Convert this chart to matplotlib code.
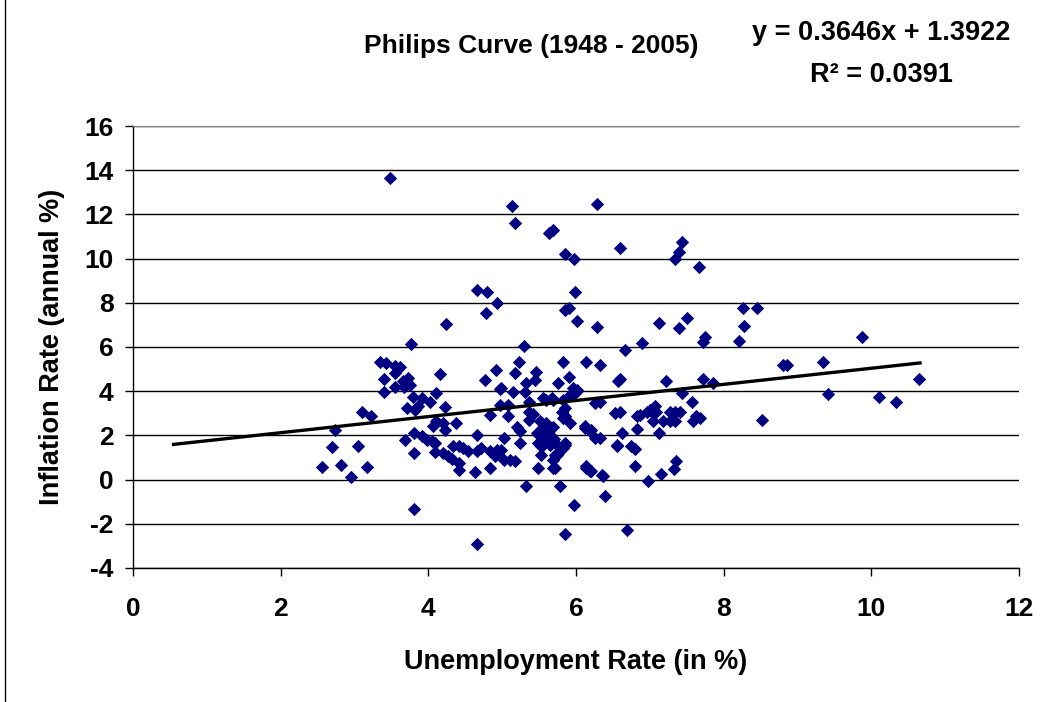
import matplotlib
matplotlib.use('Agg')
from matplotlib import pyplot as plt
import numpy as np

# unemployment rate (%) and inflation rate (annual %)
unemp = [
    3.48, 5.13, 5.17, 6.28, 5.63, 5.69, 5.85, 5.97, 6.60, 7.34, 7.39, 7.43, 7.66,
    4.66, 4.80, 4.93, 4.78, 5.99, 5.85, 5.90, 6.01, 4.24, 6.28, 7.13, 7.39, 7.50,
    8.26, 8.45, 8.28, 9.88, 7.75, 7.72, 6.89, 6.66, 8.21, 3.77, 5.29,
    3.35, 3.43, 3.55, 3.55, 3.40, 3.55, 3.40, 3.10, 3.23, 2.73, 2.70, 3.05, 2.56,
    2.82, 3.17, 2.95, 3.62, 3.66, 3.72, 3.75, 3.67,
    4.16, 4.92, 4.77, 4.11, 4.97, 3.79, 3.91, 4.02, 3.71, 3.82, 3.86, 4.23, 4.84,
    4.11, 4.20, 4.07, 4.23, 4.38, 4.66, 3.80, 3.91, 3.98, 4.05, 3.68, 4.09, 4.34,
    4.41, 4.47, 4.54, 4.66, 4.72, 4.84, 4.93, 3.81, 4.09, 4.20, 4.27, 4.32, 4.41,
    4.41, 4.63, 4.84, 4.90, 3.81, 4.66,
    5.23, 5.17, 5.82, 6.14, 5.46, 5.44, 5.32, 5.90, 5.76, 4.99, 5.15, 5.31, 6.02,
    5.99, 5.56, 5.67, 5.36, 5.83, 5.85, 5.08, 4.97, 5.36, 5.08, 5.42, 5.81, 5.85,
    5.92, 5.51, 5.60, 5.37, 5.20, 5.24, 5.69, 6.12, 6.21, 5.56, 5.47, 5.02,
    5.24, 4.99, 5.02, 5.11, 5.17, 5.49, 5.56, 5.65, 5.72, 5.85, 5.53, 5.72, 5.76,
    5.49, 5.69, 6.14, 6.19, 5.32, 5.78, 5.97, 5.85,
    5.96, 6.01, 5.92, 6.26, 5.60, 5.69, 6.12, 6.19, 6.26, 5.55, 5.60, 5.65, 5.55,
    5.60, 5.70, 5.50, 5.65, 5.52, 5.83, 5.74, 5.69, 5.72, 6.14, 6.21, 6.35, 6.55,
    6.53, 6.57, 5.83, 5.85,
    6.33, 6.60, 7.22, 7.43, 7.57, 6.33, 6.60, 6.82, 6.87, 6.96, 7.00, 7.07, 7.05,
    7.09, 7.05, 7.18, 7.27, 7.34, 7.27, 7.34, 7.41, 7.59, 7.63, 6.82, 6.62, 7.13,
    6.33, 6.55, 6.75, 6.80, 6.80, 6.37, 6.98, 7.15, 7.33, 7.35, 6.39, 6.69,
    8.81, 8.86, 7.72, 7.86, 7.68, 8.52, 9.34, 9.42, 10.10, 10.34, 10.65,
]
infl = [
    13.63, 12.38, 11.62, 12.49, 11.17, 11.29, 10.23, 9.98, 10.46, 9.97, 10.31, 10.76, 9.63,
    8.60, 8.50, 7.99, 7.54, 8.50, 7.67, 7.75, 7.19, 7.04, 6.92, 7.07, 6.85, 7.30,
    7.75, 7.75, 6.95, 6.43, 6.44, 6.24, 6.17, 5.87, 6.29, 6.13, 6.05,
    5.34, 5.28, 5.15, 4.83, 4.56, 4.20, 3.97, 3.04, 2.86, 2.26, 1.47, 1.53, 0.57,
    0.68, 0.57, 0.10, 5.10, 4.45, 4.60, 4.30, 4.20,
    4.79, 4.97, 4.51, 3.94, 4.10, 3.75, 3.69, 3.53, 3.24, 3.16, 3.31, 3.28, 2.93,
    2.63, 2.56, 2.41, 2.26, 2.56, 2.03, 2.11, 1.96, 1.81, 1.73, 1.81, 1.66, 1.50,
    1.50, 1.43, 1.28, 1.28, 1.43, 1.28, 1.35, 1.20, 1.23, 1.20, 1.05, 0.93, 0.75,
    0.45, 0.35, 0.53, 1.05, -1.31, -2.93,
    5.34, 4.82, 5.34, 5.30, 4.89, 4.51, 4.39, 4.66, 4.36, 4.14, 3.96, 3.96, 4.06,
    3.91, 3.69, 3.69, 3.49, 3.61, 3.24, 3.39, 3.39, 3.08, 2.86, 2.98, 3.08, 2.86,
    2.56, 2.63, 2.56, 2.71, 2.38, 2.18, 2.38, 2.41, 2.26, 2.26, 2.11, 1.88,
    1.66, 1.35, 0.90, 0.90, 0.83, 1.66, 1.58, 1.58, 1.66, 1.58, 1.13, 1.13, 1.20,
    0.53, 0.53, 0.53, 0.38, -0.30, -0.30, -1.16, -2.48,
    4.14, 3.99, 3.84, 3.46, 3.61, 3.61, 2.33, 2.18, 1.88, 2.40, 2.20, 2.00, 1.90,
    1.75, 1.85, 2.00, 2.30, 1.50, 1.43, 1.13, 0.90, 0.53, 0.60, 0.38, 0.23, 1.58,
    3.01, 4.44, 2.79, 1.66,
    5.19, 4.55, 4.44, 3.94, 3.49, 3.49, 3.04, 2.86, 2.93, 3.08, 3.16, 3.31, 3.01,
    3.08, 2.63, 2.63, 2.63, 2.63, 3.08, 3.08, 3.08, 2.63, 2.86, 2.29, 2.11, 2.11,
    1.88, 1.53, 1.50, 1.39, 0.63, 0.18, -0.08, 0.27, 0.48, 0.83, -0.75, -2.26,
    5.19, 5.19, 4.55, 4.36, 2.79, 2.71, 5.34, 3.87, 3.72, 3.49, 4.56,
]

slope = 0.3646
intercept = 1.3922
r2 = 0.0391
fit_x = [0.55, 10.66]

plt.rcParams['font.family'] = ['Liberation Sans', 'DejaVu Sans']
plt.rcParams['font.weight'] = 'bold'
plt.rcParams['axes.unicode_minus'] = False

fig = plt.figure(figsize=(10.52, 7.02), dpi=100)
ax = fig.add_axes([0.1264, 0.1909, 0.8422, 0.6296])

ax.scatter(unemp, infl, marker='D', s=46, color='#000080', linewidths=0, zorder=3)
fx = np.array(fit_x)
ax.plot(fx, slope * fx + intercept, color='black', linewidth=2.4, zorder=4)

ax.set_xlim(0, 12)
ax.set_ylim(-4, 16)
ax.set_xticks(range(0, 13, 2))
ax.set_yticks(range(-4, 17, 2))
ax.yaxis.grid(True, color='black', linewidth=1)
ax.set_axisbelow(True)
ax.spines['right'].set_visible(False)
ax.spines['top'].set_color('#808080')
for s in ['left', 'bottom']:
    ax.spines[s].set_color('black')
    ax.spines[s].set_linewidth(1)
ax.tick_params(direction='out', length=6, width=1, labelsize=19, pad=8)
ax.tick_params(axis='x', pad=15)
for lab in ax.get_xticklabels() + ax.get_yticklabels():
    lab.set_fontweight('bold')

ax.set_xlabel('Unemployment Rate (in %)', fontsize=19.5, fontweight='bold', labelpad=20)
ax.set_ylabel('Inflation Rate (annual %)', fontsize=19.5, fontweight='bold', labelpad=14)

fig.text(0.505, 0.935, 'Philips Curve (1948 - 2005)', fontsize=19, fontweight='bold',
         ha='center', va='center')
fig.text(0.8375, 0.953, 'y = %.4fx + %.4f' % (slope, intercept), fontsize=19.5,
         fontweight='bold', ha='center', va='center')
fig.text(0.8375, 0.893, 'R\u00b2 = %.4f' % r2, fontsize=19.5, fontweight='bold',
         ha='center', va='center')

# chart area border on the left edge
fig.add_artist(plt.Line2D([0.005, 0.005], [0.0, 1.0], color='black', linewidth=1,
                          transform=fig.transFigure))

fig.savefig('out.png', dpi=100)
